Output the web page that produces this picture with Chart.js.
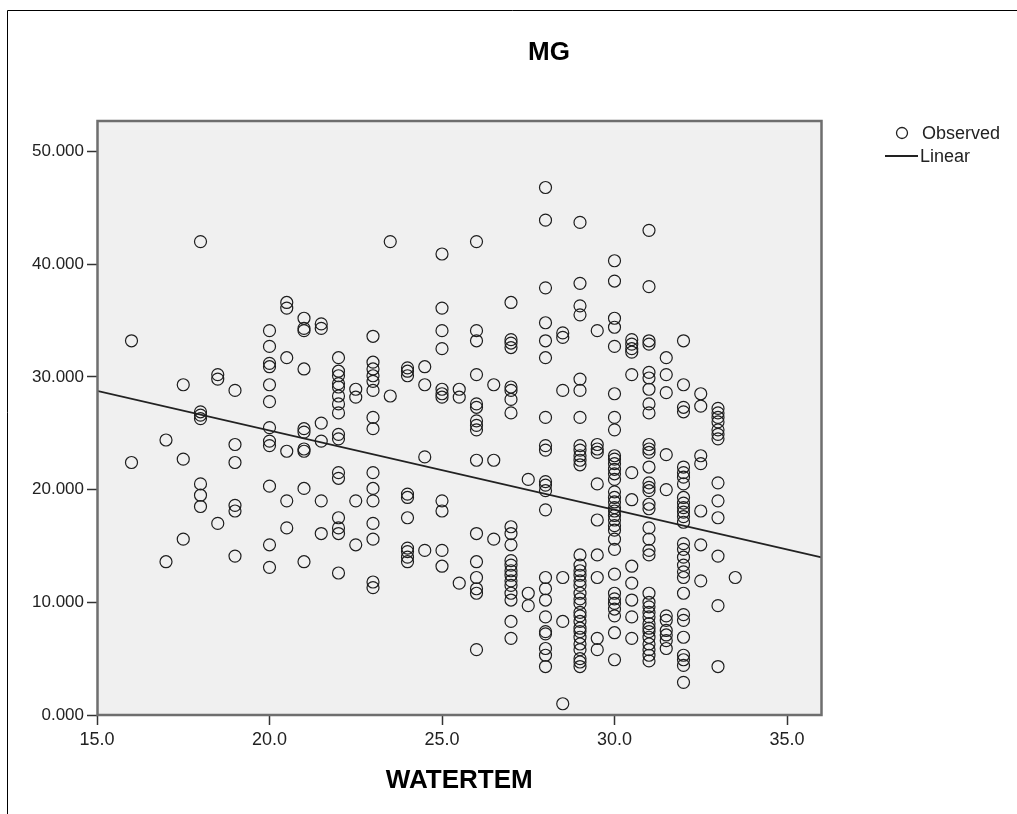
<!DOCTYPE html>
<html lang="en">
<head>
  <meta charset="UTF-8">
  <title>MG vs WATERTEM</title>
  <script src="https://cdn.jsdelivr.net/npm/chart.js"></script>
  <style>
    body {
      margin: 0;
      background-color: #fff;
    }
    canvas {
      display: block;
    }
  </style>
</head>
<body>
  <canvas id="mgChart" width="1017" height="814"></canvas>

  <script>
    // water temperature levels and the MG values observed at each of them
    const waterTemLevels = [16, 17, 17.5, 18, 18.5, 19, 20, 20.5, 21, 21.5, 22, 22.5, 23, 23.5, 24, 24.5, 25, 25.5,
      26, 26.5, 27, 27.5, 28, 28.5, 29, 29.5, 30, 30.5, 31, 31.5, 32, 32.5, 33, 33.5];

    const mgAt = [
      [33.2, 22.4],
      [24.4, 13.6],
      [29.3, 22.7, 15.6],
      [42.0, 26.9, 26.6, 26.3, 20.5, 19.5, 18.5],
      [30.2, 29.8, 17.0],
      [28.8, 24.0, 22.4, 18.6, 18.1, 14.1],
      [34.1, 32.7, 31.2, 30.9, 29.3, 27.8, 25.5, 24.3, 23.9, 20.3, 15.1, 13.1],
      [36.6, 36.1, 31.7, 23.4, 19.0, 16.6],
      [35.2, 34.3, 34.1, 30.7, 25.4, 25.1, 23.6, 23.4, 20.1, 13.6],
      [34.7, 34.3, 25.9, 24.3, 19.0, 16.1],
      [31.7, 30.5, 30.1, 29.4, 29.1, 28.3, 27.6, 26.8, 24.9, 24.5, 21.5, 21.0, 17.5, 16.6, 16.1, 12.6],
      [28.9, 28.2, 19.0, 15.1],
      [33.6, 31.3, 30.7, 30.1, 29.6, 28.8, 26.4, 25.4, 21.5, 20.1, 19.0, 17.0, 15.6, 11.8, 11.3],
      [42.0, 28.3],
      [30.8, 30.5, 30.1, 19.6, 19.3, 17.5, 14.8, 14.5, 14.0, 13.6],
      [30.9, 29.3, 22.9, 14.6],
      [40.9, 36.1, 34.1, 32.5, 28.9, 28.5, 28.2, 19.0, 18.1, 14.6, 13.2],
      [28.9, 28.2, 11.7],
      [42.0, 34.1, 33.2, 30.2, 27.6, 27.3, 26.1, 25.7, 25.3, 22.6, 16.1, 13.6, 12.2, 11.2, 10.8, 5.8],
      [29.3, 22.6, 15.6],
      [36.6, 33.3, 33.0, 32.6, 29.1, 28.8, 28.0, 26.8, 16.7, 16.1, 15.1, 13.7, 13.3, 12.8, 12.4, 11.9, 11.5, 10.8, 10.2, 8.3, 6.8],
      [20.9, 10.8, 9.7],
      [46.8, 43.9, 37.9, 34.8, 33.2, 31.7, 26.4, 23.9, 23.5, 20.7, 20.4, 19.9, 18.2, 12.2, 11.2, 10.2, 8.7, 7.4, 7.2, 5.9, 5.3, 4.3],
      [33.9, 33.5, 28.8, 12.2, 8.3, 1.0],
      [43.7, 38.3, 36.3, 35.5, 29.8, 28.8, 26.4, 23.9, 23.5, 23.0, 22.6, 22.2, 14.2, 13.3, 12.8, 12.4, 11.9, 11.5, 10.8, 10.3,
        9.9, 9.1, 8.8, 8.3, 7.7, 7.4, 6.9, 6.3, 5.8, 5.0, 4.7, 4.3],
      [34.1, 24.0, 23.6, 23.3, 20.5, 17.3, 14.2, 12.2, 6.8, 5.8],
      [40.3, 38.5, 35.2, 34.4, 32.7, 28.5, 26.4, 25.3, 23.0, 22.7, 22.3, 21.8, 21.4, 20.9, 19.8, 19.3, 18.9, 18.4, 18.1, 17.7,
        17.3, 16.8, 16.4, 15.6, 14.7, 12.5, 10.8, 10.3, 9.9, 9.4, 8.8, 7.3, 4.9],
      [33.3, 32.9, 32.5, 32.2, 30.2, 21.5, 19.1, 13.2, 11.7, 10.2, 8.7, 6.8],
      [43.0, 38.0, 33.2, 32.9, 30.4, 29.9, 28.9, 27.6, 26.8, 24.0, 23.6, 23.3, 22.0, 20.6, 20.2, 19.9, 18.7, 18.3, 16.6, 15.6,
        14.6, 14.2, 10.8, 10.0, 9.6, 9.1, 8.7, 8.1, 7.7, 7.4, 6.9, 6.3, 5.8, 5.3, 4.8],
      [31.7, 30.2, 28.6, 23.1, 20.0, 8.8, 8.4, 7.5, 7.1, 6.6, 5.9],
      [33.2, 29.3, 27.3, 26.9, 22.0, 21.5, 21.1, 20.5, 19.3, 18.8, 18.4, 18.0, 17.6, 17.1, 15.2, 14.7, 14.0, 13.3, 12.7, 12.2,
        10.8, 8.9, 8.4, 6.9, 5.3, 4.9, 4.4, 2.9],
      [28.5, 27.4, 23.0, 22.3, 18.1, 15.1, 11.9],
      [27.2, 26.8, 26.4, 26.0, 25.3, 24.9, 24.5, 20.6, 19.0, 17.5, 14.1, 9.7, 4.3],
      [12.2]
    ];

    // linear fit line, read at the two ends of the x axis
    const fitX = [15, 36];
    const fitY = [28.76, 13.98];

    const xTicks = [15, 20, 25, 30, 35];
    const yTicks = [0, 10, 20, 30, 40, 50];

    const observed = [];
    waterTemLevels.forEach((t, i) => {
      mgAt[i].forEach(v => observed.push({ x: t, y: v }));
    });
    const linear = fitX.map((x, i) => ({ x: x, y: fitY[i] }));

    Chart.defaults.font.family = "'Liberation Sans', Arial, sans-serif";
    Chart.defaults.color = '#222';

    // plot background, outer page lines, plot frame, title and legend
    const spssLook = {
      id: 'spssLook',
      beforeDraw(chart) {
        const { ctx, chartArea: a } = chart;
        ctx.save();
        ctx.fillStyle = '#fff';
        ctx.fillRect(0, 0, chart.width, chart.height);
        ctx.fillStyle = '#f0f0f0';
        ctx.fillRect(a.left, a.top, a.right - a.left, a.bottom - a.top);
        ctx.strokeStyle = '#000';
        ctx.lineWidth = 1;
        ctx.beginPath();
        ctx.moveTo(7.5, chart.height);
        ctx.lineTo(7.5, 10.5);
        ctx.lineTo(chart.width, 10.5);
        ctx.stroke();
        ctx.restore();
      },
      afterDraw(chart) {
        const { ctx, chartArea: a } = chart;
        ctx.save();
        ctx.strokeStyle = '#6e6e6e';
        ctx.lineWidth = 2.5;
        ctx.strokeRect(a.left + 0.5, a.top, a.right - a.left - 0.5, a.bottom - a.top);

        ctx.fillStyle = '#000';
        ctx.font = "bold 26px 'Liberation Sans', Arial, sans-serif";
        ctx.textAlign = 'center';
        ctx.textBaseline = 'middle';
        ctx.fillText('MG', 549, 53);

        // legend
        const ds = chart.data.datasets;
        ctx.font = "18px 'Liberation Sans', Arial, sans-serif";
        ctx.textAlign = 'left';
        ctx.fillStyle = '#222';
        ctx.strokeStyle = '#222';
        ctx.lineWidth = 1.3;
        ctx.beginPath();
        ctx.arc(902, 133, 5.5, 0, Math.PI * 2);
        ctx.stroke();
        ctx.fillText(ds[0].label, 922, 134);
        ctx.lineWidth = 2;
        ctx.beginPath();
        ctx.moveTo(885, 156);
        ctx.lineTo(918, 156);
        ctx.stroke();
        ctx.fillText(ds[1].label, 920, 157);
        ctx.restore();
      }
    };

    const ctx = document.getElementById('mgChart').getContext('2d');

    const mgChart = new Chart(ctx, {
      type: 'scatter',
      data: {
        datasets: [{
          label: 'Observed',
          data: observed,
          pointRadius: 6,
          pointHoverRadius: 6,
          borderColor: '#1e1e1e',
          backgroundColor: 'rgba(0,0,0,0)',
          borderWidth: 1.2
        }, {
          label: 'Linear',
          type: 'line',
          data: linear,
          showLine: true,
          pointRadius: 0,
          borderColor: '#222',
          borderWidth: 1.7
        }]
      },
      options: {
        responsive: false,
        animation: false,
        layout: {
          padding: { left: 0, top: 121, right: 195.5, bottom: 0 }
        },
        plugins: {
          legend: { display: false },
          title: { display: false },
          tooltip: { enabled: false }
        },
        scales: {
          x: {
            type: 'linear',
            min: 15,
            max: 36,
            afterBuildTicks: axis => { axis.ticks = xTicks.map(v => ({ value: v })); },
            afterFit: scale => { scale.height = 99; },
            grid: { drawOnChartArea: false, drawTicks: true, tickLength: 10, tickColor: '#333', tickWidth: 1.5 },
            border: { display: false },
            ticks: {
              autoSkip: false,
              maxRotation: 0,
              padding: 4,
              color: '#222',
              font: { size: 18 },
              callback: v => Number(v).toFixed(1)
            },
            title: {
              display: true,
              text: 'WATERTEM',
              color: '#000',
              font: { size: 26, weight: 'bold' },
              padding: { top: 0, bottom: 18 }
            }
          },
          y: {
            min: 0,
            max: 52.7,
            afterBuildTicks: axis => { axis.ticks = yTicks.map(v => ({ value: v })); },
            afterFit: scale => { scale.width = 97; },
            grid: { drawOnChartArea: false, drawTicks: true, tickLength: 10, tickColor: '#333', tickWidth: 1.5 },
            border: { display: false },
            ticks: {
              padding: 3,
              color: '#222',
              font: { size: 17 },
              callback: v => Number(v).toFixed(3)
            }
          }
        }
      },
      plugins: [spssLook]
    });
  </script>
</body>
</html>
